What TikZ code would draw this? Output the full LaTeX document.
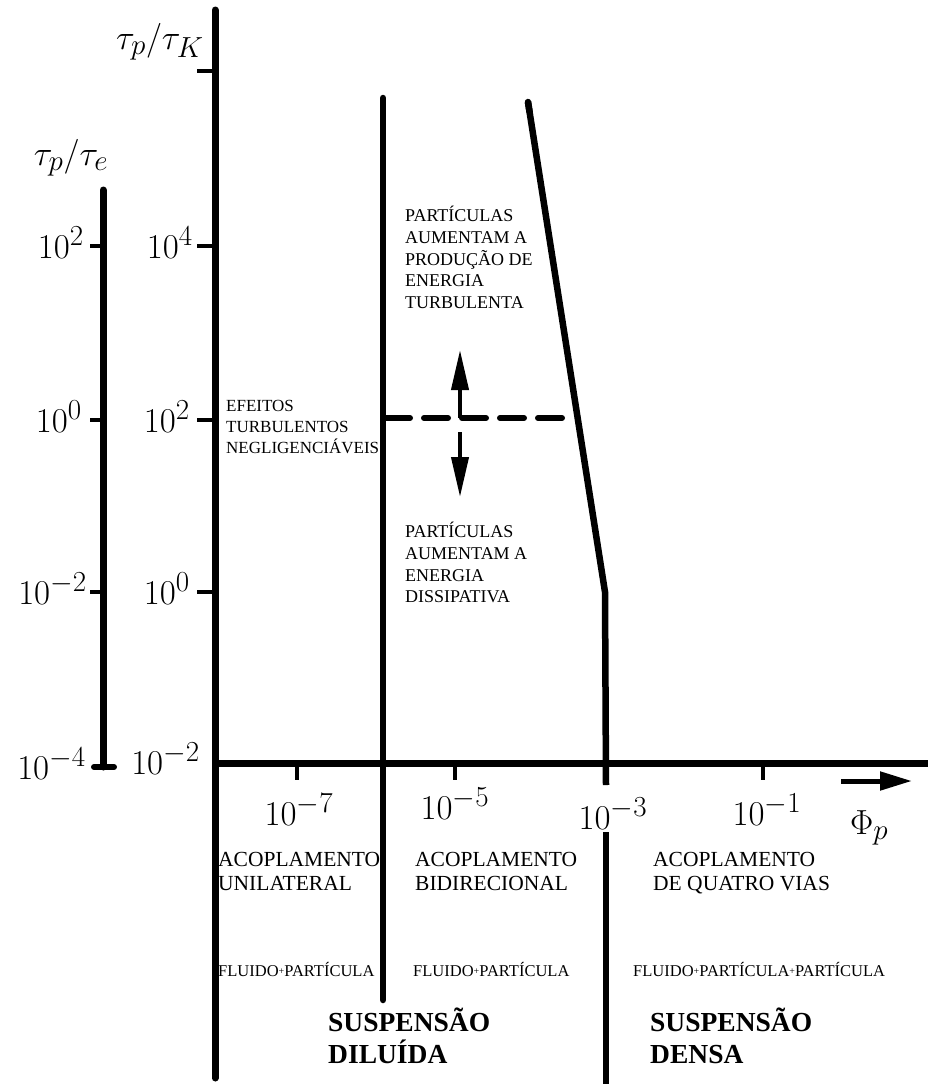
\documentclass[tikz,border=0pt]{standalone}
\usepackage{fontspec}
\setmainfont{Liberation Serif}
\usepackage{tikz}
\usetikzlibrary{calc,arrows.meta}
\usepackage{amsmath}

\newcommand{\tinyplus}{\raisebox{0.1em}{\fontsize{10}{10}\selectfont+}}
\newcommand{\biglbl}[1]{\scalebox{1.4}{\Huge$#1$}}

\begin{document}
\begin{tikzpicture}[x=1pt,y=-1pt,
    axis/.style={line width=7pt},
    tickmark/.style={line width=4pt},
    bound/.style={line width=6.5pt, line cap=round},
    ticklbl/.style={inner sep=0pt},
    regiontxt/.style={anchor=north west, inner sep=0pt, align=left, font=\fontsize{18}{21.7}\selectfont},
    coupltxt/.style={anchor=north west, inner sep=0pt, align=left, font=\fontsize{21.5}{24}\selectfont},
    phasetxt/.style={anchor=north west, inner sep=0pt, font=\fontsize{16.5}{20}\selectfont},
    susptxt/.style={anchor=north west, inner sep=0pt, align=left, font=\fontsize{27.5}{32}\selectfont\bfseries}]
    \useasboundingbox (0,0) rectangle (928,1084);
    % Key points of the map
    \coordinate (O) at (215,763);
    \coordinate (slanttop) at (528,102);
    \coordinate (slantbot) at (605,592);
    \coordinate (densetick) at (606,785);
    % Layer 1: the two vertical axes
    \draw[axis, line cap=round] (103,190) -- (103,767);
    \draw[line width=6pt, line cap=round] (94,767) -- (114,767);
    \draw[axis, line cap=round] (215,10) -- (215,1078);
    \foreach \yy in {246,420,592} {
        \draw[tickmark] (90,\yy) -- (103,\yy);
    }
    \foreach \yy in {71,246,420,592} {
        \draw[tickmark] (197,\yy) -- (215,\yy);
    }
    % horizontal axis
    \draw[axis] (O) -- (928,763);
    \foreach \xx in {297,455,763} {
        \draw[tickmark] (\xx,763) -- (\xx,780);
    }
    \draw[line width=5pt, -{Triangle[length=32pt,width=18pt]}] (841,781) -- (912,781);
    % Layer 2: regime boundaries
    \draw[bound] (383,98) -- (383,1000);
    \draw[bound, line cap=butt] (slanttop) -- (slantbot) -- (densetick);
    \draw[bound] (slanttop) -- ($(slanttop)!0.02!(slantbot)$);
    \draw[line width=6.5pt] (606,832) -- (606,1090);
    \draw[line width=6pt, line cap=round, dash pattern=on 24pt off 14pt] (386,418) -- (565,418);
    \draw[line width=4pt, -{Triangle[length=40pt,width=17pt]}] (460,418) -- (460,350);
    \draw[line width=4pt, -{Triangle[length=40pt,width=17pt]}] (460,432) -- (460,497);
    % Layer 3: axis labels
    \node[ticklbl] (taue) at (71,158) {\biglbl{\tau_p/\tau_e}};
    \node[ticklbl] (tauk) at (160,42) {\biglbl{\tau_p/\tau_K}};
    \node[ticklbl, anchor=base east] (e2) at (84,258) {\biglbl{10^{2}}};
    \node[ticklbl, anchor=base east] (e0) at (82,432) {\biglbl{10^{0}}};
    \node[ticklbl, anchor=base east] (em2) at (87,604) {\biglbl{10^{-2}}};
    \node[ticklbl, anchor=base east] (em4) at (86,779) {\biglbl{10^{-4}}};
    \node[ticklbl, anchor=base east] (k4) at (193,258) {\biglbl{10^{4}}};
    \node[ticklbl, anchor=base east] (k2) at (190,432) {\biglbl{10^{2}}};
    \node[ticklbl, anchor=base east] (k0) at (190,604) {\biglbl{10^{0}}};
    \node[ticklbl, anchor=base east] (km2) at (200,774) {\biglbl{10^{-2}}};
    \node[ticklbl, anchor=base] (p7) at (299,825) {\biglbl{10^{-7}}};
    \node[ticklbl, anchor=base] (p5) at (455,819) {\biglbl{10^{-5}}};
    \node[ticklbl, anchor=base] (p3) at (613,829) {\biglbl{10^{-3}}};
    \node[ticklbl, anchor=base] (p1) at (767,825) {\biglbl{10^{-1}}};
    \node[ticklbl, anchor=base west] (phi) at (850,834) {\biglbl{\Phi_p}};
    % Layer 4: region texts
    \node[regiontxt] (prod) at (405,206) {PARTÍCULAS\\AUMENTAM A\\PRODUÇÃO DE\\ENERGIA\\TURBULENTA};
    \node[regiontxt] (diss) at (405,522) {PARTÍCULAS\\AUMENTAM A\\ENERGIA\\DISSIPATIVA};
    \node[regiontxt, font=\fontsize{17}{21}\selectfont] (negl) at (226,400) {EFEITOS\\TURBULENTOS\\NEGLIGENCIÁVEIS};
    \node[coupltxt] (oneway) at (218,852) {ACOPLAMENTO\\UNILATERAL};
    \node[coupltxt] (twoway) at (415,852) {ACOPLAMENTO\\BIDIRECIONAL};
    \node[coupltxt] (fourway) at (653,852) {ACOPLAMENTO\\DE QUATRO VIAS};
    \node[phasetxt] (fp1) at (218,962) {FLUIDO\tinyplus PARTÍCULA};
    \node[phasetxt] (fp2) at (413,962) {FLUIDO\tinyplus PARTÍCULA};
    \node[phasetxt] (fpp) at (633,962) {FLUIDO\tinyplus PARTÍCULA\tinyplus PARTÍCULA};
    \node[susptxt] (dilute) at (328,1008) {SUSPENSÃO\\DILUÍDA};
    \node[susptxt] (dense) at (650,1008) {SUSPENSÃO\\DENSA};
\end{tikzpicture}
\end{document}
